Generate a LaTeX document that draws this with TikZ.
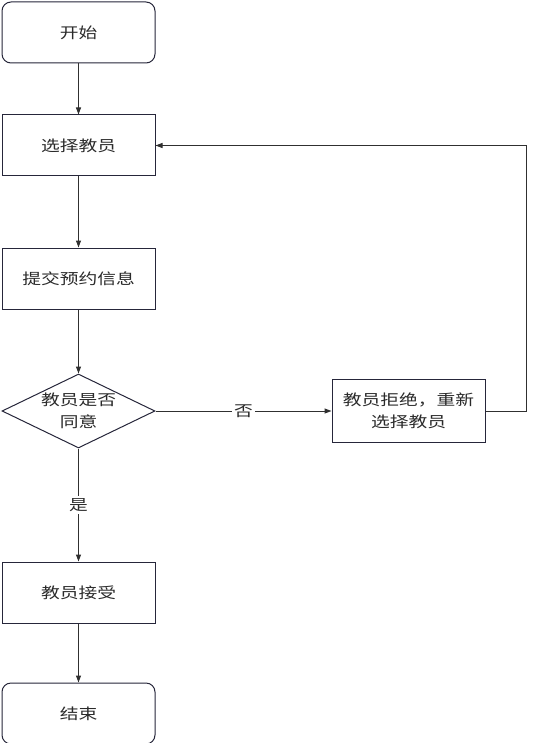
\documentclass[tikz,border=0pt]{standalone}
\usepackage{fontspec}
\setmainfont[FakeStretch=1.25]{Noto Sans CJK SC}
\usetikzlibrary{arrows.meta, positioning, shapes.geometric}
\definecolor{boxline}{HTML}{26263A}
\definecolor{flowtext}{HTML}{2A2A2A}
\definecolor{arrowgray}{HTML}{303030}

\begin{document}
\begin{tikzpicture}[
  x=1pt, y=1pt,
  every node/.style={font=\fontsize{15}{22}\selectfont, align=center, text=flowtext},
  stepbox/.style={draw=boxline, line width=1pt, fill=white, minimum width=153pt, minimum height=61pt, inner sep=2pt},
  terminal/.style={stepbox, rounded corners=9pt},
  decision/.style={draw=boxline, line width=1pt, fill=white, diamond, aspect=2.07, minimum width=153pt, minimum height=74pt, inner sep=-6pt},
  lbl/.style={fill=white, inner sep=2pt},
  arr/.style={-{Triangle[length=7pt, width=5pt]}, arrowgray, line width=1pt}
]
\useasboundingbox (0,0) rectangle (533,-743);
\node[terminal] (start) at (78.5,-32.5) {开始};
\node[stepbox, below=51pt of start] (select) {选择教员};
\node[stepbox, below=71pt of select] (submit) {提交预约信息};
\node[decision, below=64pt of submit] (agree) {教员是否\\同意};
\node[stepbox, minimum height=63pt, right=176pt of agree] (reject) {教员拒绝，重新\\选择教员};
\node[stepbox, below=113pt of agree] (accept) {教员接受};
\node[terminal, below=59pt of accept] (finish) {结束};
\draw[arr] (start) -- (select);
\draw[arr] (select) -- (submit);
\draw[arr] (submit) -- (agree);
\draw[arr] (agree) -- node[lbl] {否} (reject);
\draw[arr] (agree) -- node[lbl] {是} (accept);
\draw[arr] (accept) -- (finish);
\draw[arr] (reject.east) -- ++(41,0) |- (select.east);
\end{tikzpicture}
\end{document}
